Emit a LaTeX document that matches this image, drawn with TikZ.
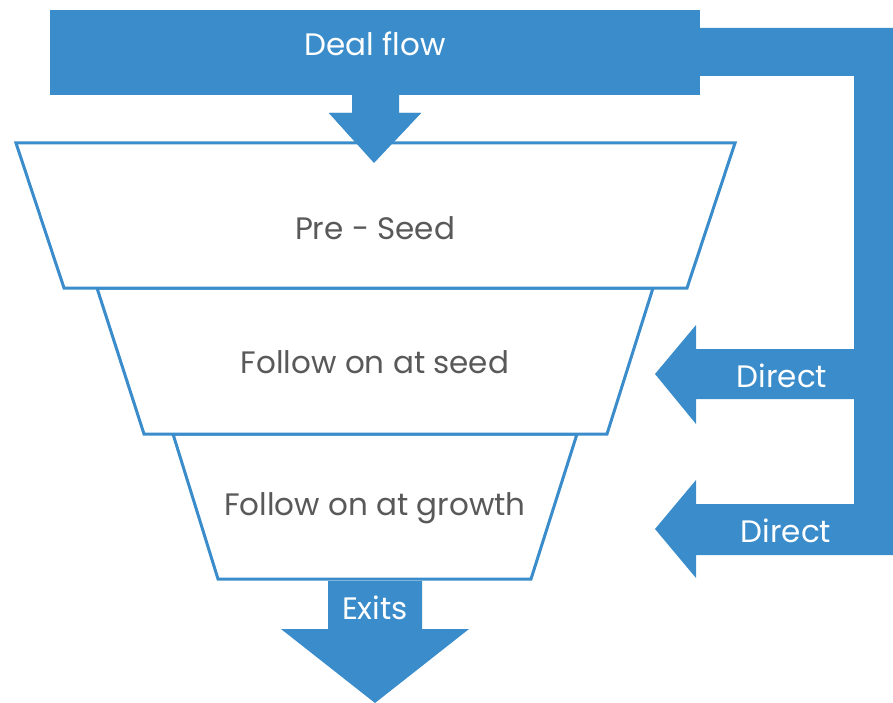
\documentclass[tikz,border=0pt]{standalone}
\usepackage{fontspec}
\setmainfont{Poppins}
\definecolor{fblue}{RGB}{58,140,203}
\definecolor{ftext}{RGB}{89,89,89}
\tikzset{
  arrowfill/.style={fill=fblue,draw=none},
  stage/.style={draw=fblue,line width=3pt,fill=white,line join=miter},
  stagetext/.style={text=ftext,font=\fontsize{31}{34}\selectfont},
  arrowtext/.style={text=white,font=\fontsize{31}{34}\selectfont},
}
\begin{document}
\begin{tikzpicture}[x=1pt,y=-1pt]
\useasboundingbox (0,0) rectangle (893,703);
% Deal flow box with branch to the right
\fill[fblue] (50,10) rectangle (700,95);
\fill[fblue] (700,28) -- (893,28) -- (893,555) -- (854,555) -- (854,76) -- (700,76) -- cycle;
% down arrow into funnel
\fill[fblue] (352,95) -- (399,95) -- (399,113) -- (421,113) -- (374,163) -- (329,113) -- (352,113) -- cycle;
% funnel stages
\draw[stage] (173,434) -- (577,434) -- (531,579) -- (218,579) -- cycle;
\draw[stage] (97,288) -- (653,288) -- (607,434) -- (144,434) -- cycle;
\draw[stage] (16,143) -- (735,143) -- (687,288) -- (64,288) -- cycle;
% re-draw deal flow arrow tip over top edge
\fill[fblue] (329,113) -- (421,113) -- (374,163) -- cycle;
% direct arrows
\fill[fblue] (854,349) -- (696,349) -- (696,325) -- (655,374) -- (696,424) -- (696,399) -- (854,399) -- cycle;
\fill[fblue] (854,504) -- (696,504) -- (696,480) -- (655,529) -- (696,578) -- (696,555) -- (854,555) -- cycle;
% exits arrow
\fill[fblue] (328,581) -- (422,581) -- (422,629) -- (469,629) -- (375,703) -- (281,629) -- (328,629) -- cycle;
% texts
\node[arrowtext] (deal) at (375,44) {Deal flow};
\node[stagetext] (pre) at (375,228) {Pre - Seed};
\node[stagetext] (seed) at (375,362) {Follow on at seed};
\node[stagetext] (growth) at (375,508) {Follow on at growth};
\node[arrowtext] (exits) at (375,608) {Exits};
\node[arrowtext] (d1) at (782,376) {Direct};
\node[arrowtext] (d2) at (786,531) {Direct};
\end{tikzpicture}
\end{document}
